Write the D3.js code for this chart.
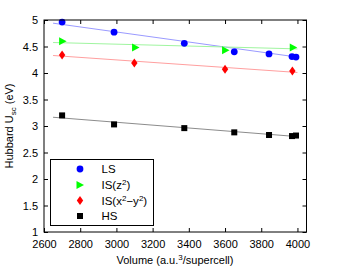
<!DOCTYPE html>
<html><head><meta charset="utf-8">
<script src="https://cdn.jsdelivr.net/npm/d3@7"></script>
<style>body{margin:0;background:#fff}svg{display:block}text{font-family:"Liberation Sans",Arial,sans-serif}</style>
</head><body><svg id="c" width="338" height="268"></svg>
<script>
const xTicks=[2600,2800,3000,3200,3400,3600,3800,4000];
const yTicks=[1,1.5,2,2.5,3,3.5,4,4.5,5];
const lsX=[2700,2987,3375,3651,3843,3970,3992];
const lsY=[4.96,4.77,4.56,4.40,4.36,4.31,4.30];
const isz2X=[2700,3103,3600,3974];
const isz2Y=[4.60,4.48,4.43,4.48];
const isxyX=[2700,3099,3600,3972];
const isxyY=[4.34,4.19,4.07,4.04];
const hsX=[2700,2987,3375,3651,3843,3970,3992];
const hsY=[3.20,3.03,2.96,2.88,2.83,2.81,2.82];
const fitX=[2650,4000];
const lsFit=[4.94,4.30];
const isz2Fit=[4.575,4.455];
const isxyFit=[4.33,4.01];
const hsFit=[3.165,2.80];

const svg=d3.select("#c");
const L=44,R=306.5,T=20,B=232;
const x=d3.scaleLinear().domain([2600,4050]).range([L,R]);
const y=d3.scaleLinear().domain([1,5]).range([B,T]);

const fits=[[lsFit,"#9a9aff"],[isz2Fit,"#a0f5a0"],[isxyFit,"#ff9f9f"],[hsFit,"#8c8c8c"]];
fits.forEach(([f,c])=>{
  svg.append("line").attr("x1",x(fitX[0])).attr("x2",x(fitX[1])).attr("y1",y(f[0])).attr("y2",y(f[1])).attr("stroke",c).attr("stroke-width",1);
});

const circle=(g,cx,cy)=>g.append("circle").attr("cx",cx).attr("cy",cy).attr("r",3.4).attr("fill","#0000ff");
const tri=(g,cx,cy)=>g.append("path").attr("d",`M${cx-3},${cy-4}L${cx+4.5},${cy}L${cx-3},${cy+4}Z`).attr("fill","#00ff00");
const dia=(g,cx,cy)=>g.append("path").attr("d",`M${cx},${cy-4.5}L${cx+3.2},${cy}L${cx},${cy+4.5}L${cx-3.2},${cy}Z`).attr("fill","#ff0000");
const sq=(g,cx,cy)=>g.append("rect").attr("x",cx-3).attr("y",cy-3).attr("width",6).attr("height",6).attr("fill","#000");

const g=svg.append("g");
lsX.forEach((v,i)=>circle(g,x(v),y(lsY[i])));
isz2X.forEach((v,i)=>tri(g,x(v),y(isz2Y[i])));
isxyX.forEach((v,i)=>dia(g,x(v),y(isxyY[i])));
hsX.forEach((v,i)=>sq(g,x(v),y(hsY[i])));

svg.append("rect").attr("x",L).attr("y",T).attr("width",R-L).attr("height",B-T).attr("fill","none").attr("stroke","#000").attr("stroke-width",1);
const xb=svg.append("g").attr("transform",`translate(0,${B})`).call(d3.axisBottom(x).tickValues(xTicks).tickSize(-4).tickPadding(8).tickFormat(d3.format("d")));
const xt=svg.append("g").attr("transform",`translate(0,${T})`).call(d3.axisTop(x).tickValues(xTicks).tickSize(-4).tickFormat(""));
const yl=svg.append("g").attr("transform",`translate(${L},0)`).call(d3.axisLeft(y).tickValues(yTicks).tickSize(-4).tickPadding(6).tickFormat(d=>d));
const yr=svg.append("g").attr("transform",`translate(${R},0)`).call(d3.axisRight(y).tickValues(yTicks).tickSize(-4).tickFormat(""));
[xb,xt,yl,yr].forEach(a=>{a.select(".domain").remove();a.selectAll("text").attr("font-size",11).attr("fill","#000").attr("font-family","Liberation Sans, Arial, sans-serif");a.selectAll("line").attr("stroke","#000");});

const lg=svg.append("g");
lg.append("rect").attr("x",50.5).attr("y",159.5).attr("width",103).attr("height",66).attr("fill","#fff").attr("stroke","#000").attr("stroke-width",1);
const ly=[169,185,200.5,216];
circle(lg,80,ly[0]);tri(lg,79.5,ly[1]);dia(lg,80,ly[2]);sq(lg,80,ly[3]);
const lt=(i)=>lg.append("text").attr("x",101.5).attr("y",ly[i]+4).attr("font-size",11.5);
lt(0).text("LS");
let t=lt(1);t.append("tspan").text("IS(z");t.append("tspan").attr("dy",-4).attr("font-size",8).text("2");t.append("tspan").attr("dy",4).text(")");
t=lt(2);t.append("tspan").text("IS(x");t.append("tspan").attr("dy",-4).attr("font-size",8).text("2");t.append("tspan").attr("dy",4).text("−y");t.append("tspan").attr("dy",-4).attr("font-size",8).text("2");t.append("tspan").attr("dy",4).text(")");
lt(3).text("HS");

const xl=svg.append("text").attr("x",175).attr("y",264).attr("text-anchor","middle").attr("font-size",11);
xl.append("tspan").text("Volume (a.u.");xl.append("tspan").attr("dy",-4).attr("font-size",8).text("3");xl.append("tspan").attr("dy",4).text("/supercell)");
const yla=svg.append("text").attr("transform","translate(13,126) rotate(-90)").attr("text-anchor","middle").attr("font-size",11);
yla.append("tspan").text("Hubbard U");yla.append("tspan").attr("dy",3).attr("font-size",8).text("sc");yla.append("tspan").attr("dy",-3).text(" (eV)");
</script></body></html>
